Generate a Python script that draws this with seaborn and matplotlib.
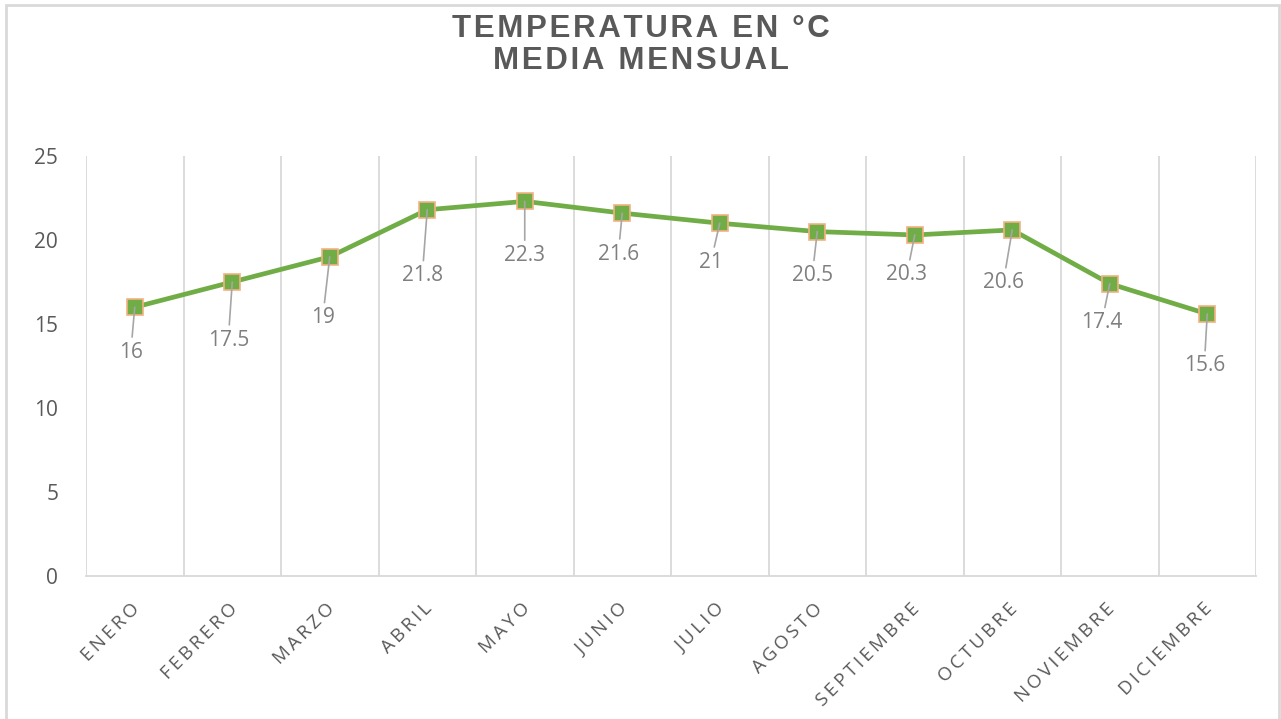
import numpy as np
import pandas as pd
import matplotlib
matplotlib.use("Agg")
import matplotlib.pyplot as plt
import matplotlib.ticker as mticker
import matplotlib.transforms as mtransforms
from matplotlib.patches import Rectangle
import seaborn as sns

meses = ['ENERO', 'FEBRERO', 'MARZO', 'ABRIL', 'MAYO', 'JUNIO', 'JULIO',
         'AGOSTO', 'SEPTIEMBRE', 'OCTUBRE', 'NOVIEMBRE', 'DICIEMBRE']
temperatura = [16, 17.5, 19, 21.8, 22.3, 21.6, 21, 20.5, 20.3, 20.6, 17.4, 15.6]

# label drop below each point, in pixels (how the labels sit in the original)
label_drop = [45, 58, 61, 66, 54, 41, 39, 44, 40, 53, 39, 52]
label_shift = [-4, -4, -7, -5, 0, -4, -9, -5, -8, -9, -8, -3]

df = pd.DataFrame({'Mes': meses, 'Temp': temperatura})

sns.set_style("white")
plt.rcParams['font.family'] = ['Open Sans', 'DejaVu Sans']

gris = '#595959'
verde = '#70AD47'


def espaciado(txt, sep='\u2009'):
    # Excel draws these with extra letter spacing
    return sep.join(txt)


fig = plt.figure(figsize=(12.81, 7.19), dpi=100)
ax = fig.add_axes([86 / 1281, 1 - 576 / 719, 1170 / 1281, 420 / 719])

sns.lineplot(
    data=df,
    x='Mes',
    y='Temp',
    color=verde,
    linewidth=3.4,
    marker='s',
    markersize=11,
    markerfacecolor=verde,
    markeredgecolor='#F4B183',
    markeredgewidth=1.2,
    sort=False,
    ax=ax
)

ax.set_xlim(-0.5, len(meses) - 0.5)
ax.set_ylim(0, 25)
ax.set_yticks([0, 5, 10, 15, 20, 25])
ax.xaxis.set_minor_locator(mticker.FixedLocator(np.arange(-0.5, len(meses), 1)))
ax.grid(False)
ax.grid(True, which='minor', axis='x', color='#D9D9D9', linewidth=1.3)
ax.tick_params(axis='x', which='both', length=0)
ax.tick_params(axis='y', length=0, pad=20, labelsize=15, labelcolor=gris)
ax.set_xlabel('')
ax.set_ylabel('')

for s in ['top', 'right', 'left']:
    ax.spines[s].set_visible(False)
ax.spines['bottom'].set_color('#D9D9D9')
ax.spines['bottom'].set_linewidth(1.3)

ax.set_xticks(range(len(meses)))
ax.set_xticklabels([espaciado(m) for m in meses], rotation=45, ha='right',
                   rotation_mode='anchor', fontsize=13.5, color=gris)
ax.tick_params(axis='x', pad=17)
shift = mtransforms.ScaledTranslation(-4 / 100, 0, fig.dpi_scale_trans)
for lab in ax.get_xticklabels():
    lab.set_transform(lab.get_transform() + shift)

for i, v in enumerate(temperatura):
    ax.annotate(
        f'{v:g}',
        xy=(i, v),
        xytext=(label_shift[i] * 0.72, -label_drop[i] * 0.72),
        textcoords='offset points',
        ha='center', va='center',
        fontsize=15, color='#7F7F7F',
        arrowprops=dict(arrowstyle='-', color='#A6A6A6', linewidth=1.2,
                        shrinkA=1, shrinkB=0)
    )

fig.text(0.5, 1 - 29 / 719, espaciado('TEMPERATURA EN °C', '\u200a'),
         ha='center', va='center', fontsize=22.5, fontweight='bold', color=gris,
         family=['Liberation Sans', 'DejaVu Sans'])
fig.text(0.5, 1 - 61 / 719, espaciado('MEDIA MENSUAL', '\u200a'),
         ha='center', va='center', fontsize=22.5, fontweight='bold', color=gris,
         family=['Liberation Sans', 'DejaVu Sans'])

fig.patches.append(Rectangle((6 / 1281, -0.02), 1273 / 1281, 1.02 - 5 / 719,
                             transform=fig.transFigure, fill=False,
                             edgecolor='#D9D9D9', linewidth=2))

fig.savefig('out.png', dpi=100)
